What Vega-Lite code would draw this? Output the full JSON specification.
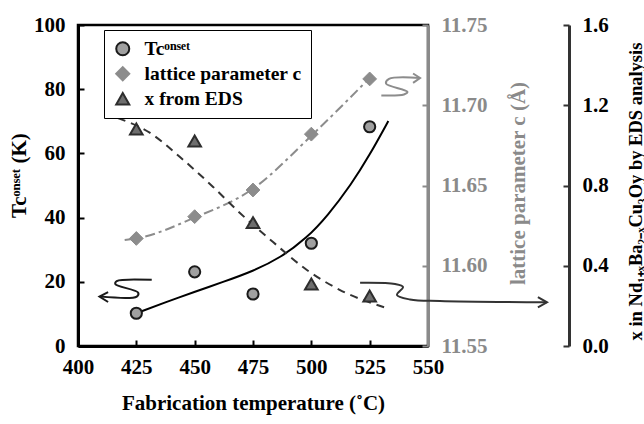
{
  "$schema": "https://vega.github.io/schema/vega-lite/v6.json",
  "width": 350,
  "height": 321,
  "autosize": {"type": "none"},
  "padding": {"left": 78, "top": 25, "right": 216, "bottom": 78},
  "background": "white",
  "config": {
    "view": {"stroke": "black", "strokeWidth": 2.5},
    "font": "Liberation Serif",
    "axis": {
      "grid": false,
      "labelFont": "Liberation Serif", "labelFontSize": 21, "labelFontWeight": "bold", "labelColor": "black",
      "titleFont": "Liberation Serif", "titleFontSize": 21, "titleFontWeight": "bold", "titleColor": "black",
      "tickSize": -6, "tickWidth": 2, "tickColor": "black",
      "domainWidth": 3, "domainColor": "black",
      "labelPadding": 19, "labelOverlap": false, "labelFlush": false
    },
    "legend": {
      "orient": "none", "legendX": 26, "legendY": 5,
      "strokeColor": "black", "fillColor": "white", "padding": 9,
      "labelFont": "Liberation Serif", "labelFontSize": 19.5, "labelFontWeight": "bold", "labelColor": "black",
      "symbolStrokeWidth": 2, "symbolSize": 170, "rowPadding": 3, "labelOffset": 12, "labelLimit": 300
    }
  },
  "datasets": {
    "tcPts": [
      {"T": 425, "v": 10.2, "s": "Tcᵒⁿˢᵉᵗ"},
      {"T": 450, "v": 23.1, "s": "Tcᵒⁿˢᵉᵗ"},
      {"T": 475, "v": 16.2, "s": "Tcᵒⁿˢᵉᵗ"},
      {"T": 500, "v": 32.0, "s": "Tcᵒⁿˢᵉᵗ"},
      {"T": 525, "v": 68.3, "s": "Tcᵒⁿˢᵉᵗ"}
    ],
    "tcCurve": [
      {"T": 425, "v": 10.2}, {"T": 437, "v": 13.5}, {"T": 450, "v": 16.9}, {"T": 462, "v": 19.9},
      {"T": 475, "v": 23.3}, {"T": 487, "v": 27.6}, {"T": 498, "v": 33.6}, {"T": 507, "v": 40.6},
      {"T": 517, "v": 50.2}, {"T": 525, "v": 59.5}, {"T": 533, "v": 70.1}
    ],
    "tcSquiggle": [
      {"o": 1, "T": 431.6, "v": 20.6}, {"o": 2, "T": 416.6, "v": 20.2}, {"o": 3, "T": 416.0, "v": 19.3},
      {"o": 4, "T": 425.8, "v": 16.6}, {"o": 5, "T": 425.2, "v": 15.4}, {"o": 6, "T": 409.4, "v": 15.4}
    ],
    "tcHead": [
      {"o": 1, "T": 412.9, "v": 16.8}, {"o": 2, "T": 409.2, "v": 15.4}, {"o": 3, "T": 412.9, "v": 13.7}
    ],
    "latPts": [
      {"T": 425, "v": 11.617, "s": "lattice parameter c"},
      {"T": 450, "v": 11.6306, "s": "lattice parameter c"},
      {"T": 475, "v": 11.6472, "s": "lattice parameter c"},
      {"T": 500, "v": 11.682, "s": "lattice parameter c"},
      {"T": 525, "v": 11.7164, "s": "lattice parameter c"}
    ],
    "latCurve": [
      {"T": 420, "v": 11.616}, {"T": 425, "v": 11.617}, {"T": 450, "v": 11.630},
      {"T": 475, "v": 11.648}, {"T": 500, "v": 11.681}, {"T": 527, "v": 11.720}
    ],
    "latSquiggle": [
      {"o": 1, "T": 530.0, "v": 11.7061}, {"o": 2, "T": 539.7, "v": 11.7067}, {"o": 3, "T": 541.2, "v": 11.7083},
      {"o": 4, "T": 532.0, "v": 11.7136}, {"o": 5, "T": 533.3, "v": 11.7164}, {"o": 6, "T": 546.6, "v": 11.717}
    ],
    "latHead": [
      {"o": 1, "T": 543.6, "v": 11.7198}, {"o": 2, "T": 546.6, "v": 11.717}, {"o": 3, "T": 543.6, "v": 11.7139}
    ],
    "xPts": [
      {"T": 425, "v": 1.082, "s": "x from EDS"},
      {"T": 450, "v": 1.022, "s": "x from EDS"},
      {"T": 475, "v": 0.615, "s": "x from EDS"},
      {"T": 500, "v": 0.309, "s": "x from EDS"},
      {"T": 525, "v": 0.249, "s": "x from EDS"}
    ],
    "xCurve": [
      {"T": 417.1, "v": 1.136}, {"T": 430.9, "v": 1.062}, {"T": 443.7, "v": 0.942}, {"T": 457.9, "v": 0.793},
      {"T": 469.4, "v": 0.663}, {"T": 483.6, "v": 0.518}, {"T": 498.1, "v": 0.379}, {"T": 512.3, "v": 0.279},
      {"T": 532.4, "v": 0.189}
    ],
    "xSquiggle": [
      {"o": 1, "T": 520.9, "v": 0.315}, {"o": 2, "T": 535.9, "v": 0.309}, {"o": 3, "T": 539.3, "v": 0.294},
      {"o": 4, "T": 536.7, "v": 0.254}, {"o": 5, "T": 542.3, "v": 0.232}, {"o": 6, "T": 555.1, "v": 0.224},
      {"o": 7, "T": 601.0, "v": 0.218}
    ],
    "xHead": [
      {"o": 1, "T": 597.1, "v": 0.244}, {"o": 2, "T": 601.0, "v": 0.218}, {"o": 3, "T": 597.1, "v": 0.192}
    ]
  },
  "encoding": {
    "x": {
      "field": "T", "type": "quantitative",
      "scale": {"domain": [400, 550], "nice": false, "zero": false},
      "axis": {
        "values": [400, 425, 450, 475, 500, 525, 550],
        "title": "Fabrication temperature (˚C)",
        "labelPadding": 16,
        "titleX": 175, "titleY": 57, "titleBaseline": "middle", "titleAlign": "center"
      }
    }
  },
  "layer": [
    {
      "encoding": {
        "y": {
          "field": "v", "type": "quantitative",
          "scale": {"domain": [0, 100], "nice": false},
          "axis": {
            "orient": "left", "values": [0, 20, 40, 60, 80, 100],
            "title": "Tcᵒⁿˢᵉᵗ (K)",
            "titleAngle": 270, "titleX": -59, "titleY": 150, "titleBaseline": "middle", "titleAlign": "center"
          }
        }
      },
      "layer": [
        {"data": {"name": "tcCurve"}, "mark": {"type": "line", "color": "black", "strokeWidth": 2, "interpolate": "basis"}},
        {"data": {"name": "tcSquiggle"}, "mark": {"type": "line", "color": "#1a1a1a", "strokeWidth": 2, "interpolate": "catmull-rom"}, "encoding": {"order": {"field": "o"}}},
        {"data": {"name": "tcHead"}, "mark": {"type": "line", "color": "#1a1a1a", "strokeWidth": 2}, "encoding": {"order": {"field": "o"}}},
        {
          "data": {"name": "tcPts"},
          "mark": {"type": "point", "filled": true, "size": 125, "strokeWidth": 2, "opacity": 1},
          "encoding": {
            "shape": {"field": "s", "type": "nominal", "title": null, "scale": {"domain": ["Tcᵒⁿˢᵉᵗ", "lattice parameter c", "x from EDS"], "range": ["circle", "diamond", "triangle-up"]}},
            "fill": {"field": "s", "type": "nominal", "title": null, "scale": {"domain": ["Tcᵒⁿˢᵉᵗ", "lattice parameter c", "x from EDS"], "range": ["#a0a0a0", "#8c8c8c", "#6e6e6e"]}},
            "stroke": {"field": "s", "type": "nominal", "title": null, "scale": {"domain": ["Tcᵒⁿˢᵉᵗ", "lattice parameter c", "x from EDS"], "range": ["#1a1a1a", "#8c8c8c", "#2e2e2e"]}}
          }
        }
      ]
    },
    {
      "encoding": {
        "y": {
          "field": "v", "type": "quantitative",
          "scale": {"domain": [11.55, 11.75], "nice": false, "zero": false},
          "axis": {
            "orient": "right", "values": [11.55, 11.6, 11.65, 11.7, 11.75], "format": ".2f",
            "title": "lattice parameter c (Å)",
            "labelColor": "#8a8a8a", "titleColor": "#8a8a8a", "domainColor": "#8a8a8a", "tickColor": "#8a8a8a",
            "titleAngle": 270, "titleX": 90, "titleY": 158, "titleBaseline": "middle", "titleAlign": "center"
          }
        }
      },
      "layer": [
        {"data": {"name": "latCurve"}, "mark": {"type": "line", "color": "#8c8c8c", "strokeWidth": 2, "strokeDash": [10, 4, 3, 4], "interpolate": "monotone"}},
        {"data": {"name": "latSquiggle"}, "mark": {"type": "line", "color": "#8c8c8c", "strokeWidth": 2, "interpolate": "catmull-rom"}, "encoding": {"order": {"field": "o"}}},
        {"data": {"name": "latHead"}, "mark": {"type": "line", "color": "#8c8c8c", "strokeWidth": 2}, "encoding": {"order": {"field": "o"}}},
        {
          "data": {"name": "latPts"},
          "mark": {"type": "point", "filled": true, "size": 190, "strokeWidth": 1, "opacity": 1},
          "encoding": {
            "shape": {"field": "s", "type": "nominal"},
            "fill": {"field": "s", "type": "nominal"},
            "stroke": {"field": "s", "type": "nominal"}
          }
        }
      ]
    },
    {
      "encoding": {
        "y": {
          "field": "v", "type": "quantitative",
          "scale": {"domain": [0, 1.6], "nice": false},
          "axis": {
            "orient": "right", "offset": 141, "values": [0, 0.4, 0.8, 1.2, 1.6], "format": ".1f",
            "title": "x in Nd₁₊ₓBa₂₋ₓCu₃Oy by EDS analysis",
            "titleFontSize": 18.5,
            "domainColor": "#333333", "tickColor": "#333333",
            "titleAngle": 270, "titleX": 66, "titleY": 166, "titleBaseline": "middle", "titleAlign": "center"
          }
        }
      },
      "layer": [
        {"data": {"name": "xCurve"}, "mark": {"type": "line", "color": "#333333", "strokeWidth": 2, "strokeDash": [8, 6], "interpolate": "monotone"}},
        {"data": {"name": "xSquiggle"}, "mark": {"type": "line", "color": "#333333", "strokeWidth": 2, "interpolate": "catmull-rom"}, "encoding": {"order": {"field": "o"}}},
        {"data": {"name": "xHead"}, "mark": {"type": "line", "color": "#333333", "strokeWidth": 2}, "encoding": {"order": {"field": "o"}}},
        {
          "data": {"name": "xPts"},
          "mark": {"type": "point", "filled": true, "size": 160, "strokeWidth": 2, "opacity": 1},
          "encoding": {
            "shape": {"field": "s", "type": "nominal"},
            "fill": {"field": "s", "type": "nominal"},
            "stroke": {"field": "s", "type": "nominal"}
          }
        }
      ]
    }
  ],
  "resolve": {"scale": {"y": "independent"}}
}
